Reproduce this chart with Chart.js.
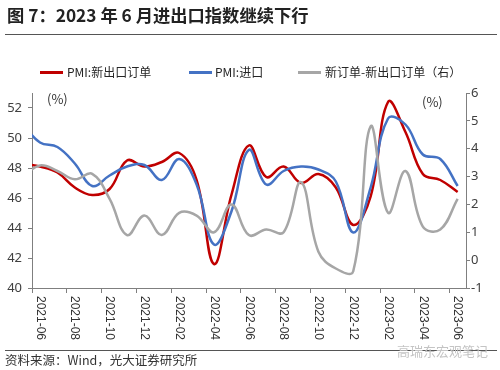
<!DOCTYPE html>
<html><head><meta charset="utf-8">
<script src="https://cdn.jsdelivr.net/npm/chart.js@4/dist/chart.umd.min.js"></script>
<style>
html,body{margin:0;padding:0;background:#fff;}
#wrap{position:relative;width:500px;height:370px;overflow:hidden;font-family:"Noto Sans CJK SC","Noto Sans",sans-serif;color:#262626;}
#c{position:absolute;left:0;top:0;width:500px;height:370px;}
.t{position:absolute;white-space:nowrap;line-height:1;}
.ln{position:absolute;height:2.5px;}
</style></head><body>
<div id="wrap">
<canvas id="c" width="500" height="370"></canvas>
<div class="t" style="left:7px;top:6px;font-size:17.3px;font-weight:bold;color:#222;">图 7：2023 年 6 月进出口指数继续下行</div>
<div style="position:absolute;left:5px;top:34px;width:492px;height:0;border-top:1px solid #555;"></div>
<div class="ln" style="left:40px;top:71px;width:23px;background:#C00000;"></div>
<div class="t" style="left:67px;top:66px;font-size:12px;">PMI:新出口订单</div>
<div class="ln" style="left:189px;top:71px;width:23px;background:#4472C4;"></div>
<div class="t" style="left:215px;top:66px;font-size:12px;">PMI:进口</div>
<div class="ln" style="left:298px;top:71px;width:23px;background:#A6A6A6;"></div>
<div class="t" style="left:325px;top:66px;font-size:12px;">新订单-新出口订单（右）</div>
<div class="t" style="left:47px;top:92px;font-size:13px;color:#333;">(%)</div>
<div class="t" style="left:422px;top:95px;font-size:13px;color:#333;">(%)</div>
<div style="position:absolute;left:5px;top:350px;width:492px;height:0;border-top:1px solid #555;"></div>
<div class="t" style="left:5px;top:354px;font-size:12.5px;color:#333;">资料来源：Wind，光大证券研究所</div>
<div class="t" style="left:397px;top:344px;font-size:13px;color:#c4c4c4;">高瑞东宏观笔记</div>
</div>
<script>
const months = ['2021-05','2021-06','2021-07','2021-08','2021-09','2021-10','2021-11','2021-12',
  '2022-01','2022-02','2022-03','2022-04','2022-05','2022-06','2022-07','2022-08','2022-09','2022-10','2022-11','2022-12',
  '2023-01','2023-02','2023-03','2023-04','2023-05','2023-06'];
const exportOrders = [48.3,48.1,47.7,46.7,46.2,46.6,48.5,48.1,48.4,49.0,47.2,41.6,46.2,49.5,47.4,48.1,47.0,47.6,46.7,44.2,46.1,52.4,50.4,47.6,47.2,46.4];
const imports = [50.9,49.7,49.4,48.3,46.8,47.5,48.1,48.2,47.2,48.6,46.9,42.9,45.1,49.2,46.9,47.8,48.1,47.9,47.1,43.7,46.7,51.3,50.9,48.9,48.6,46.8];
const spread = [3.0,3.4,3.2,2.9,3.1,2.2,0.9,1.6,0.9,1.7,1.6,1.0,2.0,0.9,1.1,1.0,2.8,0.3,-0.3,-0.4,4.8,1.7,3.2,1.2,1.1,2.2];
const tickLabels = ['2021-06','2021-08','2021-10','2021-12','2022-02','2022-04','2022-06','2022-08','2022-10','2022-12','2023-02','2023-04','2023-06'];
const leftTicks = [40,42,44,46,48,50,52];
const rightTicks = [-1,0,1,2,3,4,5,6];

const pos = m => months.indexOf(m) - 1;
const pts = arr => arr.map((v,i)=>({x: i-1, y: v}));
const axisColor = '#7f7f7f';

const xLabelPlugin = {
  id:'xlabels',
  afterDraw(chart){
    const s = chart.scales.x, ctx = chart.ctx;
    ctx.save();
    ctx.font = '12px "Liberation Sans", sans-serif';
    ctx.fillStyle = '#333';
    ctx.textAlign = 'left'; ctx.textBaseline = 'middle';
    tickLabels.forEach(l=>{
      const x = s.getPixelForValue(pos(l));
      ctx.save(); ctx.translate(x, 296); ctx.rotate(Math.PI/2); ctx.fillText(l,0,0); ctx.restore();
    });
    ctx.restore();
  }
};

new Chart(document.getElementById('c'), {
  type:'line',
  data:{datasets:[
    {label:'PMI:新出口订单', data:pts(exportOrders), borderColor:'#C00000', backgroundColor:'#C00000', borderWidth:2.5, pointRadius:0, tension:0.4, yAxisID:'y', order:2},
    {label:'PMI:进口', data:pts(imports), borderColor:'#4472C4', backgroundColor:'#4472C4', borderWidth:2.5, pointRadius:0, tension:0.4, yAxisID:'y', order:1},
    {label:'新订单-新出口订单（右）', data:pts(spread), borderColor:'#A6A6A6', backgroundColor:'#A6A6A6', borderWidth:2.5, pointRadius:0, tension:0.4, yAxisID:'y1', order:0}
  ]},
  options:{
    responsive:false, animation:false, devicePixelRatio:1,
    layout:{padding:{top:93,left:0,right:0,bottom:0}},
    plugins:{legend:{display:false}, tooltip:{enabled:false}},
    scales:{
      x:{type:'linear', min:-0.46, max:24.48,
        afterBuildTicks: s => { s.ticks = tickLabels.map(l=>({value: pos(l)-0.46})); },
        ticks:{display:false},
        grid:{drawOnChartArea:false, drawTicks:true, tickLength:5, color:axisColor},
        border:{color:axisColor, width:1},
        afterFit: s => { s.height = 82; }},
      y:{position:'left', min:40, max:53,
        afterBuildTicks: s => { s.ticks = leftTicks.map(v=>({value:v})); },
        ticks:{padding:6, color:'#404040', font:{size:13, family:'"Noto Sans", sans-serif'}},
        grid:{drawOnChartArea:false, tickLength:4, color:axisColor},
        border:{color:axisColor, width:1},
        afterFit: s => { s.width = 32; }},
      y1:{position:'right', min:-1, max:6,
        afterBuildTicks: s => { s.ticks = rightTicks.map(v=>({value:v})); },
        ticks:{padding:1, color:'#404040', font:{size:13, family:'"Noto Sans", sans-serif'}},
        grid:{drawOnChartArea:false, tickLength:4, color:axisColor},
        border:{color:axisColor, width:1},
        afterFit: s => { s.width = 34; }}
    }
  },
  plugins:[xLabelPlugin]
});
</script>
</body></html>
